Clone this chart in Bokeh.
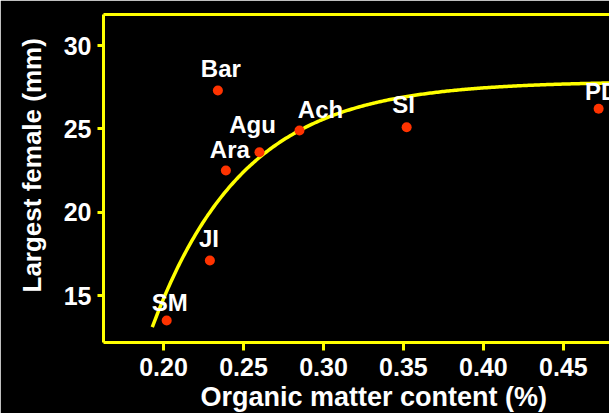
from bokeh.plotting import figure
from bokeh.models import ColumnDataSource, LinearAxis, FixedTicker, PrintfTickFormatter, Range1d, Title
from bokeh.core.properties import value
from bokeh.embed import file_html
from bokeh.resources import INLINE
import numpy as np

# Sites, organic matter content (%) and largest female size (mm)
sites = ["Bar", "Agu", "Ara", "Ach", "SI", "PD", "JI", "SM"]
organic_matter = [0.234, 0.260, 0.239, 0.285, 0.352, 0.472, 0.229, 0.202]
largest_female = [27.3, 23.6, 22.5, 24.9, 25.1, 26.2, 17.1, 13.5]

# Fitted asymptotic model: y = a - b * exp(-k * (x - x0))
fit_a, fit_b, fit_k, fit_x0 = 27.85, 14.75, 17.5, 0.193
fit_x_start, fit_x_end = 0.193, 0.48

x_ticks = [0.20, 0.25, 0.30, 0.35, 0.40, 0.45]
y_ticks = [15, 20, 25, 30]

# Screen-pixel nudges for the site labels
label_dx = [3, -7, 4, 21, -3, 3, -1, 3]
label_dy = [-22, -28, -21, -21, -23, -17, -22, -18]

FONT = "Liberation Sans"
YELLOW = "#ffff00"

p = figure(width=609, height=413, output_backend="svg", toolbar_location=None,
           x_range=Range1d(0.1625, 0.4788), y_range=Range1d(12.18, 31.86),
           x_axis_location=None, y_axis_location=None,
           min_border_left=103, min_border_right=0, min_border_top=14, min_border_bottom=71)
p.background_fill_color = "black"
p.border_fill_color = "black"
p.outline_line_color = None
p.xgrid.visible = False
p.ygrid.visible = False


def style_axis(ax, tick_len):
    ax.axis_line_color = YELLOW
    ax.axis_line_width = 3
    ax.major_tick_line_color = YELLOW
    ax.major_tick_line_width = 3
    ax.major_tick_out = tick_len
    ax.major_tick_in = 0
    ax.minor_tick_line_color = None
    ax.major_label_text_color = "white"
    ax.major_label_text_font = FONT
    ax.major_label_text_font_style = "bold"
    ax.major_label_text_font_size = "25px"


xaxis = LinearAxis(ticker=FixedTicker(ticks=x_ticks),
                   formatter=PrintfTickFormatter(format="%.2f"))
style_axis(xaxis, 8)
xaxis.major_label_standoff = 7
p.add_layout(xaxis, "below")

yaxis = LinearAxis(ticker=FixedTicker(ticks=y_ticks))
style_axis(yaxis, 6)
yaxis.major_label_standoff = 6
p.add_layout(yaxis, "left")

# Top edge of the frame
top = LinearAxis(ticker=FixedTicker(ticks=[]))
top.axis_line_color = YELLOW
top.axis_line_width = 3
top.major_tick_line_color = None
top.minor_tick_line_color = None
top.major_label_text_font_size = "0px"
p.add_layout(top, "above")

# Axis titles
p.add_layout(Title(text="Organic matter content (%)", align="left", offset=97, standoff=2,
                   text_color="white", text_font=FONT, text_font_style="bold",
                   text_font_size="27px"), "below")
p.add_layout(Title(text="Largest female (mm)", align="left", offset=50, standoff=27,
                   text_color="white", text_font=FONT, text_font_style="bold",
                   text_font_size="26px"), "left")

# Fitted curve
fx = np.linspace(fit_x_start, fit_x_end, 300)
fy = fit_a - fit_b * np.exp(-fit_k * (fx - fit_x0))
p.line(fx, fy, line_color=YELLOW, line_width=3.5)

src = ColumnDataSource(dict(x=organic_matter, y=largest_female, name=sites,
                            dx=label_dx, dy=label_dy))
p.scatter("x", "y", source=src, size=10, fill_color="#ff3300", line_color=None)
p.text("x", "y", text="name", source=src, x_offset="dx", y_offset="dy",
       text_align="center", text_baseline="alphabetic", text_color="white",
       text_font=value(FONT), text_font_style="bold", text_font_size="24px")

open("out.html", "w").write(file_html(p, INLINE))
